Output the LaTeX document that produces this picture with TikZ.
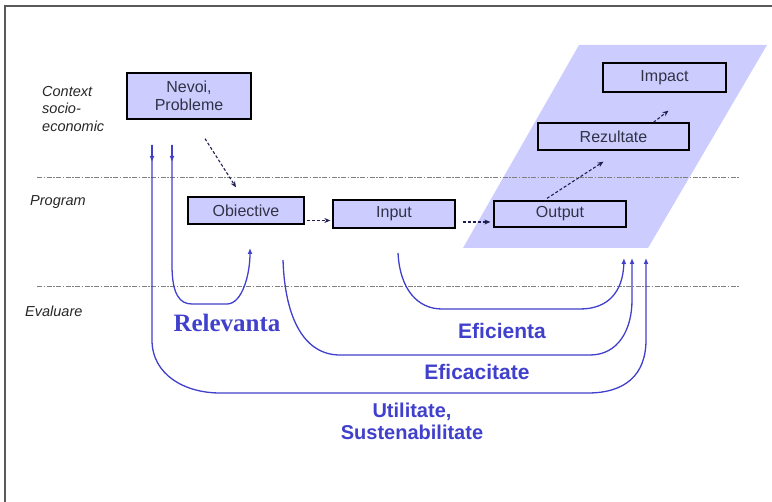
\documentclass[tikz,border=0pt]{standalone}
\usepackage{fontspec}
\setmainfont{Liberation Serif}
\setsansfont{Liberation Sans}
\usetikzlibrary{arrows.meta}
\definecolor{lav}{RGB}{204,204,255}
\definecolor{evblue}{RGB}{64,64,204}
\definecolor{navy}{RGB}{32,32,80}
\definecolor{boxtext}{RGB}{50,50,70}
\tikzset{
  stage/.style={draw=black, line width=1.3pt, fill=lav, inner sep=0pt, font=\sffamily\fontsize{16}{18}\selectfont, text=boxtext, align=center},
  flow/.style={navy, densely dashed, line width=1.1pt, -{Stealth[length=6pt,width=5pt]}},
  level/.style={gray, line width=1pt, dash pattern=on 5pt off 1.5pt on 1.5pt off 1.5pt},
  evline/.style={evblue, line width=1.3pt},
  evarrow/.style={evline, -{Latex[length=6pt,width=5pt]}},
  side/.style={font=\sffamily\itshape\fontsize{14.5}{17.5}\selectfont, text=black!85, align=left, anchor=west, inner sep=0pt},
  evlabel/.style={font=\sffamily\bfseries\fontsize{21}{22}\selectfont, text=evblue, align=center, inner sep=0pt}
}
\begin{document}
\begin{tikzpicture}[x=1pt,y=-1pt]
\useasboundingbox (0,0) rectangle (772,502);
% frame
\draw[black!65, line width=2pt] (5,502) -- (5,6) -- (772,6);
% shaded parallelogram
\fill[lav] (579,45) -- (767,45) -- (648,248) -- (463,248) -- cycle;
% level lines
\draw[level] (37,178) -- (740,178);
\draw[level] (37,287) -- (740,287);
% side labels
\node[side] (ctx) at (42,109) {Context\\socio-\\economic};
\node[side] (prog) at (30,202) {Program};
\node[side] (eval) at (25,311) {Evaluare};
% stages
\node[stage, minimum width=124pt, minimum height=46pt] (nevoi) at (189,96) {Nevoi,\\Probleme};
\node[stage, minimum width=116pt, minimum height=27pt] (obiective) at (246,210.5) {Obiective};
\node[stage, minimum width=122pt, minimum height=28pt] (input) at (394,214) {Input};
\node[stage, minimum width=132pt, minimum height=26pt] (output) at (560,214) {Output};
\node[stage, minimum width=151pt, minimum height=27pt] (rezultate) at (613.5,136.5) {Rezultate};
\node[stage, minimum width=123pt, minimum height=29pt] (impact) at (664.5,77.5) {Impact};
% dashed flow arrows
\draw[flow] ([xshift=16pt,yshift=-19pt]nevoi.south) -- ([xshift=-10pt,yshift=9pt]obiective.north);
\draw[flow] ([xshift=2pt,yshift=-10pt]obiective.east) -- ([xshift=-2pt,yshift=-10pt]obiective.east -| input.west);
\draw[flow] ([xshift=7pt,yshift=-8pt]input.east) -- ([xshift=-3pt,yshift=-8pt]input.east -| output.west);
\draw[flow] ([xshift=-13pt,yshift=2pt]output.north) -- ([xshift=-10pt,yshift=-11pt]rezultate.south);
\draw[flow] ([xshift=40pt]rezultate.north) -- ([xshift=4pt,yshift=-18pt]impact.south);
% evaluation connectors
\coordinate (ua) at (152,145);
\coordinate (ub) at (172,145);
\coordinate (uc) at (283,260);
\coordinate (ud) at (398,253);
\coordinate (ta) at (646,258);
\coordinate (tb) at (250,248);
\coordinate (tc) at (632,258);
\coordinate (td) at (624,258);
\draw[evarrow] (ua) -- (152,162);
\draw[evarrow] (ub) -- (172,162);
% Utilitate
\draw[evarrow] (ua) -- (152,340) .. controls (152,375) and (185,393) .. (220,393) -- (588,393) .. controls (625,393) and (646,375) .. (646,340) -- (ta);
% Relevanta
\draw[evarrow] (ub) -- (172,265) .. controls (172,295) and (180,304) .. (192,304) -- (227,304) .. controls (242,304) and (250,275) .. (tb);
% Eficacitate
\draw[evarrow] (uc) .. controls (285,320) and (305,355) .. (340,355) -- (590,355) .. controls (618,355) and (632,330) .. (632,300) -- (tc);
% Eficienta
\draw[evarrow] (ud) .. controls (400,290) and (418,309) .. (442,309) -- (580,309) .. controls (608,309) and (623,292) .. (td);
% labels
\node[font=\rmfamily\bfseries\fontsize{25}{26}\selectfont, text=evblue, inner sep=0pt] (relev) at (227,323) {Relevanta};
\node[evlabel] (efic) at (502,331) {Eficienta};
\node[evlabel] (eficac) at (477,372) {Eficacitate};
\node[evlabel, font=\sffamily\bfseries\fontsize{20}{22}\selectfont] (util) at (412,421) {Utilitate,\\Sustenabilitate};
\end{tikzpicture}
\end{document}
